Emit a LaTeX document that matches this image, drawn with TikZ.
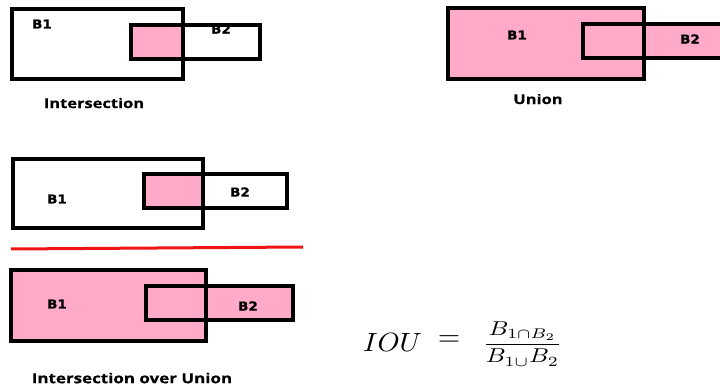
\documentclass[tikz,border=0pt]{standalone}
\usepackage{fontspec}
\usepackage{graphicx}
\newfontfamily\capfont{Open Sans}[FakeStretch=1.22, BoldFeatures={FakeBold=0.5}]
\newfontfamily\boxfont{DejaVu Sans}[FakeStretch=1.1, BoldFeatures={FakeBold=1}]
\definecolor{boxpink}{RGB}{255,170,200}
\definecolor{divred}{RGB}{240,20,20}
\tikzset{
  box/.style={draw=black, line width=3.5pt, minimum width=#1, inner sep=0pt, outer sep=0pt},
  boxlabel/.style={font=\boxfont\bfseries\fontsize{12.3}{14}\selectfont, inner sep=0pt},
  caption/.style={font=\capfont\bfseries\fontsize{13.5}{15}\selectfont, inner sep=0pt},
}
\begin{document}
\begin{tikzpicture}[x=1pt,y=-1pt]
\useasboundingbox (0,0) rectangle (720,387);

% ---------- Intersection ----------
\node[box=171pt, minimum height=70pt, fill=white] (ia) at (97.5,44) {};
\node[box=129pt, minimum height=34pt, fill=white] (ib) at (195.5,42) {};
\fill[boxpink] (ib.north west) rectangle (ia.east |- ib.south);
\draw[line width=3.5pt] (ia.north west) rectangle (ia.south east);
\draw[line width=3.5pt] (ib.north west) rectangle (ib.south east);
\node[boxlabel] (ial) at (42,24) {B1};
\node[boxlabel] (ibl) at (221,29) {B2};
\node[caption] (icap) at (94,103) {Intersection};

% ---------- Union ----------
\node[box=196pt, minimum height=71pt, fill=boxpink] (ua) at (546,43.5) {};
\node[box=141pt, minimum height=34pt, fill=boxpink] (ub) at (653.5,41) {};
\draw[line width=3.5pt] (ua.north west) rectangle (ua.south east);
\node[boxlabel] (ual) at (517,35) {B1};
\node[boxlabel] (ubl) at (690,39) {B2};
\node[caption] (ucap) at (538,99) {Union};

% ---------- Intersection over Union: numerator ----------
\node[box=190pt, minimum height=69pt, fill=white] (na) at (108,193.5) {};
\node[box=143pt, minimum height=34pt, fill=white] (nb) at (215.5,191) {};
\fill[boxpink] (nb.north west) rectangle (na.east |- nb.south);
\draw[line width=3.5pt] (na.north west) rectangle (na.south east);
\draw[line width=3.5pt] (nb.north west) rectangle (nb.south east);
\node[boxlabel] (nal) at (57,199) {B1};
\node[boxlabel] (nbl) at (240,192) {B2};

% dividing line
\coordinate (dl) at (11,249);
\coordinate (dr) at (303,247);
\draw[divred, line width=3pt] (dl) -- (dr);

% ---------- Intersection over Union: denominator ----------
\node[box=195pt, minimum height=71pt, fill=boxpink] (da) at (108.5,305.5) {};
\node[box=147pt, minimum height=34pt, fill=boxpink] (db) at (219.5,303) {};
\draw[line width=3.5pt] (da.north west) rectangle (da.south east);
\node[boxlabel] (dal) at (57,304) {B1};
\node[boxlabel] (dbl) at (248,306) {B2};
\node[caption, font=\capfont\bfseries\fontsize{13.9}{15}\selectfont] (dcap) at (132,378) {Intersection over Union};

% ---------- formula ----------
\node[inner sep=0pt] (iou) at (392.5,342)
  {\resizebox*{59pt}{18pt}{$IOU$}};
\node[inner sep=0pt, font=\fontsize{28}{30}\selectfont] (eq) at (449,341)
  {\resizebox{22pt}{!}{$=$}};
\node[inner sep=0pt] (frac) at (522.5,344)
  {\resizebox*{79pt}{44pt}{$\displaystyle\frac{B_{1\cap B_2}}{B_{1\cup}B_2}$}};
\end{tikzpicture}
\end{document}
